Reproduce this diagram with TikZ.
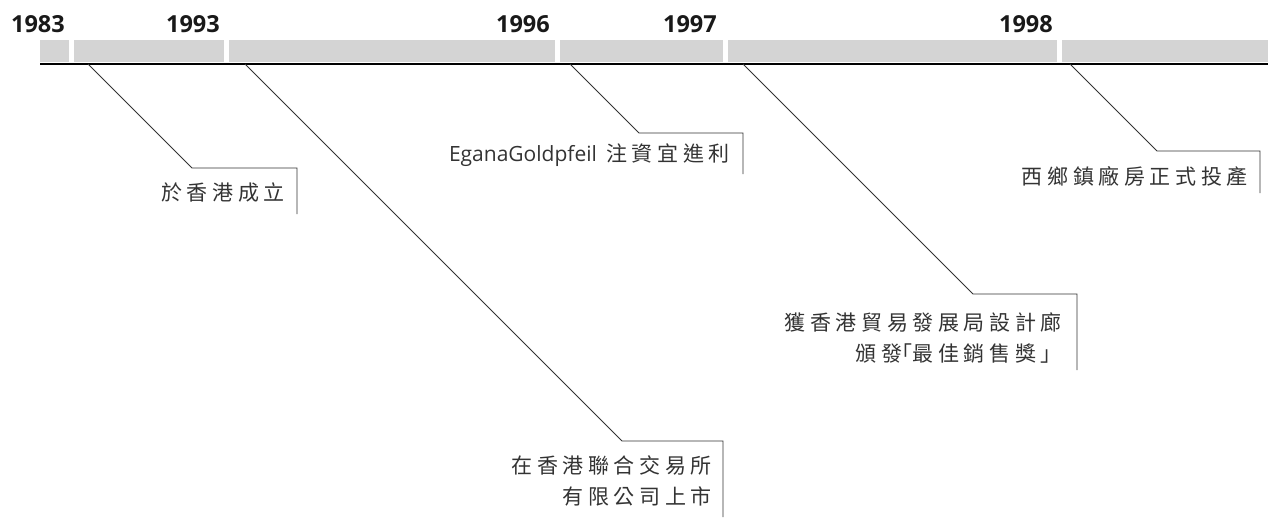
\documentclass[tikz,border=0pt]{standalone}
\usepackage{fontspec}
\setmainfont{Open Sans}
\newfontfamily\cjk[LetterSpace=22]{Noto Sans CJK TC}
\newfontfamily\cjkhalt[LetterSpace=60,RawFeature=+halt]{Noto Sans CJK TC}
\newfontfamily\lat{Open Sans}
\newcommand{\lbr}{{\cjkhalt 「}}
\newcommand{\rbr}{{\cjk 」}}
\definecolor{bargray}{HTML}{D4D4D4}
\definecolor{ink}{HTML}{333333}
\begin{document}
\begin{tikzpicture}[x=1pt,y=-1pt,
  yearlbl/.style={font=\fontsize{23.5}{24}\selectfont\bfseries, anchor=base east, inner sep=0pt, text=black!90},
  evt/.style={font=\cjk\fontsize{21}{31}\selectfont, align=right, anchor=east, inner sep=0pt, text=ink},
  conn/.style={draw=ink, line width=0.9pt},
  barseg/.style={fill=bargray, draw=none}]
\useasboundingbox (0,0) rectangle (1268,517);
% bar segments
\fill[barseg] (40,40) rectangle (69,62);
\fill[barseg] (74,40) rectangle (224,62);
\fill[barseg] (229,40) rectangle (555,62);
\fill[barseg] (560,40) rectangle (723,62);
\fill[barseg] (728,40) rectangle (1057,62);
\fill[barseg] (1062,40) rectangle (1268,62);
\draw[line width=2pt, black] (40,63.5) -- (1268,63.5);
% years
\node[yearlbl] (y1983) at (65,32) {1983};
\node[yearlbl] (y1993) at (220,32) {1993};
\node[yearlbl] (y1996) at (550,32) {1996};
\node[yearlbl] (y1997) at (717,32) {1997};
\node[yearlbl] (y1998) at (1053,32) {1998};
% event labels
\node[evt] (t1) at (285,193) {於香港成立};
\node[evt] (t2) at (712,481) {在香港聯合交易所\\有限公司上市};
\node[evt] (t3) at (730,155) {{\lat\fontsize{21}{24}\selectfont EganaGoldpfeil} 注資宜進利};
\node[evt] (t4) at (1062,338) {獲香港貿易發展局設計廊\\頒發\lbr 最佳銷售獎\rbr};
\node[evt] (t5) at (1248,176) {西鄉鎮廠房正式投產};
% connector points
\coordinate (s1) at (88,64);  \coordinate (c1) at (192,168);  \coordinate (h1) at (297,168);  \coordinate (e1) at (297,214);
\coordinate (s2) at (245,64); \coordinate (c2) at (622,441);  \coordinate (h2) at (723,441);  \coordinate (e2) at (723,517);
\coordinate (s3) at (570,64); \coordinate (c3) at (639,133);  \coordinate (h3) at (743,133);  \coordinate (e3) at (743,174);
\coordinate (s4) at (743,64); \coordinate (c4) at (973,294);  \coordinate (h4) at (1077,294); \coordinate (e4) at (1077,370);
\coordinate (s5) at (1070,64);\coordinate (c5) at (1157,151); \coordinate (h5) at (1260,151); \coordinate (e5) at (1260,193);
\draw[conn] (s1) -- (c1) -- (h1) -- (e1);
\draw[conn] (s2) -- (c2) -- (h2) -- (e2);
\draw[conn] (s3) -- (c3) -- (h3) -- (e3);
\draw[conn] (s4) -- (c4) -- (h4) -- (e4);
\draw[conn] (s5) -- (c5) -- (h5) -- (e5);
\end{tikzpicture}
\end{document}
